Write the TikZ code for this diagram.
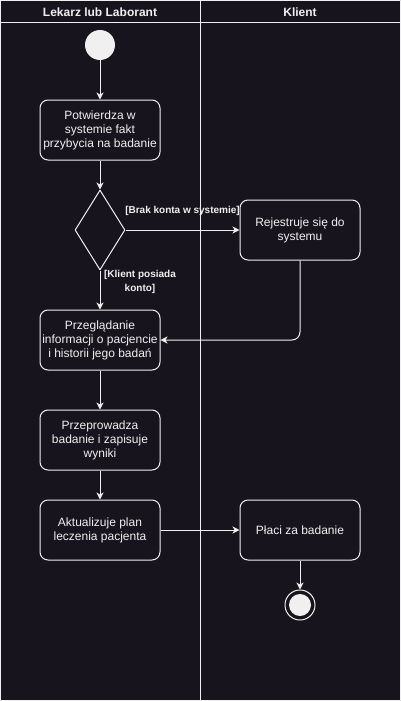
\documentclass[tikz,border=0pt]{standalone}
\usepackage{fontspec}
\setmainfont{Liberation Sans}
\usetikzlibrary{shapes.geometric,arrows.meta}
\definecolor{tlo}{HTML}{18141D}
\definecolor{linia}{HTML}{F0F0F0}
\begin{document}
\begin{tikzpicture}[x=1pt,y=-1pt,line join=round,>={Stealth[length=7pt,width=7pt,inset=2pt]},line width=1pt]
	\tikzset{every node/.style={text=linia,font=\fontsize{12}{14}\selectfont}}
	\tikzset{akcja/.style={draw=linia,rounded corners=8pt,minimum width=120pt,minimum height=60pt,align=center,inner sep=1pt}}
	\tikzset{etykieta/.style={font=\bfseries\fontsize{10}{14}\selectfont,align=center,inner sep=0pt}}
	\fill[tlo] (0,0) rectangle (401,701);
	\useasboundingbox (0,0) rectangle (401,701);
	% tory
	\draw[linia] (0.5,0.5) rectangle (400.5,700.5);
	\draw[linia] (0.5,23)--(400.5,23);
	\draw[linia] (200.5,0.5)--(200.5,700.5);
	\node[font=\bfseries\fontsize{12}{14}\selectfont] (torA) at (100,12) {Lekarz lub Laborant};
	\node[font=\bfseries\fontsize{12}{14}\selectfont] (torB) at (300,12) {Klient};
	% wezly
	\node[circle,fill=linia,minimum size=30pt,inner sep=0pt] (start) at (100,45) {};
	\node[akcja] (potw) at (100,130) {Potwierdza w\\systemie fakt\\przybycia na badanie};
	\node[diamond,draw=linia,shape aspect=0.625,minimum width=50pt,minimum height=80pt,inner sep=0pt] (decyzja) at (100,230) {};
	\node[akcja] (rejestr) at (300,230) {Rejestruje się do\\systemu};
	\node[akcja] (przegl) at (100,340) {Przeglądanie\\informacji o pacjencie\\i historii jego badań};
	\node[akcja] (przepr) at (100,440) {Przeprowadza\\badanie i zapisuje\\wyniki};
	\node[akcja] (aktual) at (100,530) {Aktualizuje plan\\leczenia pacjenta};
	\node[akcja] (placi) at (300,530) {Płaci za badanie};
	\node[circle,draw=linia,minimum size=30pt,inner sep=0pt] (koniec) at (300,605) {};
	\node[circle,fill=linia,minimum size=22pt,inner sep=0pt] (koniecW) at (koniec) {};
	% przejscia
	\draw[->,linia] (start)--(potw);
	\draw[->,linia] (potw)--(decyzja);
	\draw[->,linia] (decyzja.east)--(rejestr.west) node[etykieta,pos=0.5,yshift=19pt] {[Brak konta w systemie]};
	\draw[->,linia] (decyzja.south)--(przegl.north) node[etykieta,pos=0.3,xshift=40pt] {[Klient posiada\\konto]};
	\draw[->,linia,rounded corners=8pt] (rejestr.south) |- (przegl.east);
	\draw[->,linia] (przegl)--(przepr);
	\draw[->,linia] (przepr)--(aktual);
	\draw[->,linia] (aktual)--(placi);
	\draw[->,linia] (placi)--(koniec);
\end{tikzpicture}
\end{document}
